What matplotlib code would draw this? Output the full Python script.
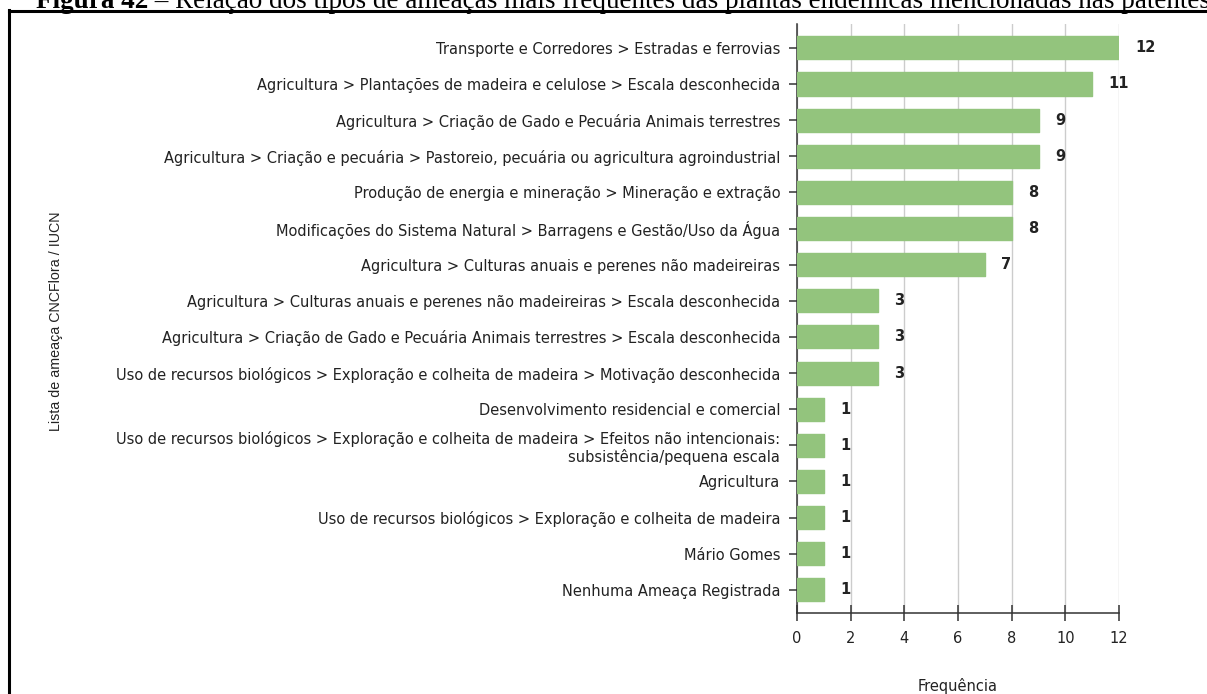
import matplotlib
matplotlib.use('Agg')
import matplotlib.pyplot as plt
from matplotlib.lines import Line2D

# threat categories (top to bottom) and how often each shows up
threats = [
    'Transporte e Corredores > Estradas e ferrovias',
    'Agricultura > Plantações de madeira e celulose > Escala desconhecida',
    'Agricultura > Criação de Gado e Pecuária Animais terrestres',
    'Agricultura > Criação e pecuária > Pastoreio, pecuária ou agricultura agroindustrial',
    'Produção de energia e mineração > Mineração e extração',
    'Modificações do Sistema Natural > Barragens e Gestão/Uso da Água',
    'Agricultura > Culturas anuais e perenes não madeireiras',
    'Agricultura > Culturas anuais e perenes não madeireiras > Escala desconhecida',
    'Agricultura > Criação de Gado e Pecuária Animais terrestres > Escala desconhecida',
    'Uso de recursos biológicos > Exploração e colheita de madeira > Motivação desconhecida',
    'Desenvolvimento residencial e comercial',
    'Uso de recursos biológicos > Exploração e colheita de madeira > Efeitos não intencionais:\nsubsistência/pequena escala',
    'Agricultura',
    'Uso de recursos biológicos > Exploração e colheita de madeira',
    'Mário Gomes',
    'Nenhuma Ameaça Registrada',
]
counts = [12, 11, 9, 9, 8, 8, 7, 3, 3, 3, 1, 1, 1, 1, 1, 1]
xticks = [0, 2, 4, 6, 8, 10, 12]

plt.rcParams['font.family'] = ['DejaVu Sans']
fs = 10.5
txt_color = '#222222'

W, H = 1207, 694
fig = plt.figure(figsize=(W / 100, H / 100), dpi=100)
ax = fig.add_axes([797 / W, 1 - 613 / H, (1119 - 797) / W, (613 - 24) / H])

pos = list(range(len(threats)))
ax.barh(pos, counts, height=0.64, color='#93c47d', edgecolor='#93c47d',
        linewidth=1.0, joinstyle='round', zorder=3)

for y, v in zip(pos, counts):
    ax.text(v + 0.62, y, str(v), va='center', ha='left', fontsize=fs,
            fontweight='bold', color=txt_color)

ax.set_yticks(pos)
ax.set_yticklabels(threats, fontsize=fs, color=txt_color, multialignment='right')
ax.set_xticks(xticks)
ax.set_xticklabels([str(t) for t in xticks], fontsize=fs, color=txt_color)
ax.set_xlim(0, 12)
ax.set_ylim(15.64, -0.66)

ax.tick_params(axis='y', direction='inout', length=12, width=1.1, color='#333333', pad=6)
ax.tick_params(axis='x', direction='inout', length=12, width=1.1, color='#333333', pad=7)

ax.grid(axis='x', color='#cccccc', linewidth=1.0, zorder=0)
for side in ['top', 'right']:
    ax.spines[side].set_visible(False)
for side in ['left', 'bottom']:
    ax.spines[side].set_color('#333333')
    ax.spines[side].set_linewidth(1.1)

fig.text(958 / W, 1 - 686 / H, 'Frequência', ha='center', va='center',
         fontsize=fs, color=txt_color)
fig.text(56 / W, 1 - 321 / H, 'Lista de ameaça CNCFlora / IUCN', ha='center',
         va='center', rotation=90, fontsize=10.3, family='Liberation Sans',
         color=txt_color)

# frame around the figure (left and top edges)
fig.add_artist(Line2D([9 / W, 9 / W], [0, 1 - 9.5 / H], color='black', linewidth=2.2))
fig.add_artist(Line2D([9 / W, 1], [1 - 10.5 / H, 1 - 10.5 / H], color='black', linewidth=2.2))

# caption line, partly above the page edge
cap = fig.text(36 / W, 1 - 8 / H, 'Figura 42', fontsize=19.5, fontweight='bold',
               family='Liberation Serif', va='baseline', ha='left')
plt.annotate(' – Relação dos tipos de ameaças mais frequentes das plantas endêmicas mencionadas nas patentes',
             xy=(1, 0), xycoords=cap, va='bottom', ha='left', fontsize=19.5,
             family='Liberation Serif', annotation_clip=False)

fig.savefig('out.png', dpi=100)
